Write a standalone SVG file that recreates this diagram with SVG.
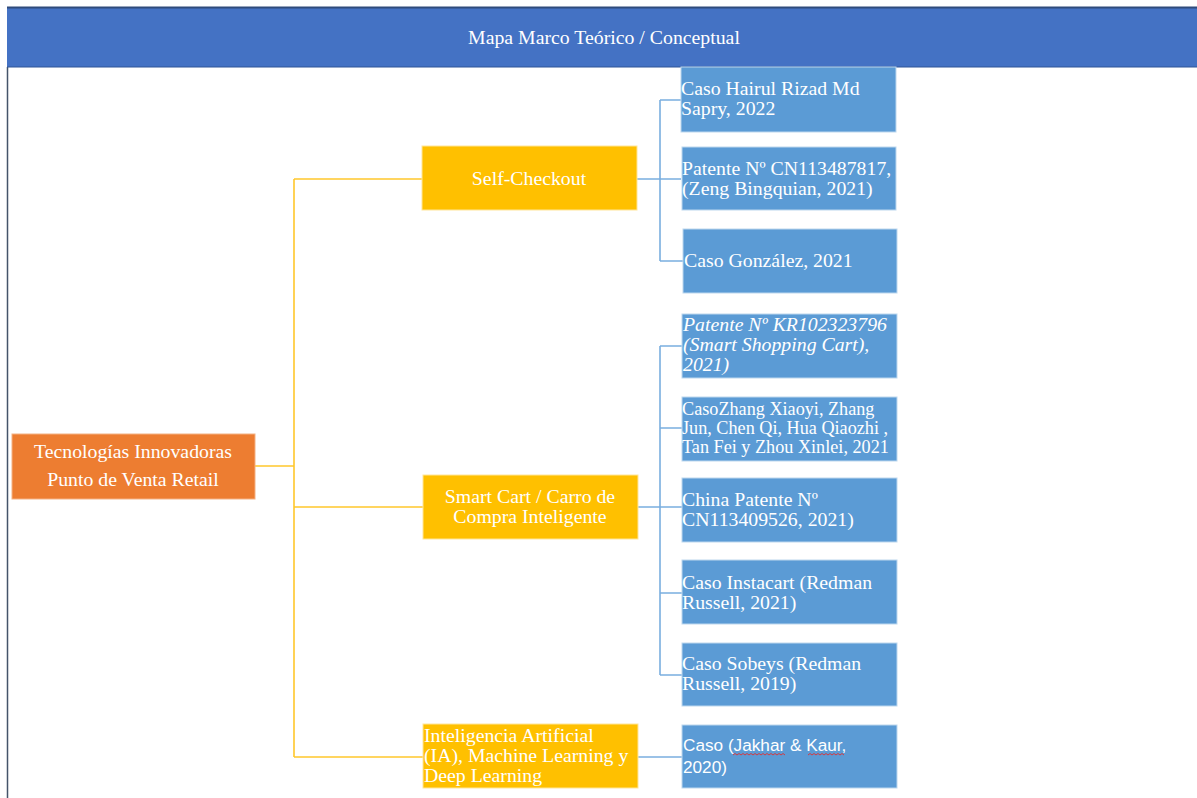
<svg xmlns="http://www.w3.org/2000/svg" width="1197" height="798" viewBox="0 0 1197 798">
  <style>
    .t { font-family: "Liberation Serif", "Times New Roman", serif; font-size: 19.8px; fill: #ffffff; }
    .sm { font-size: 18.2px; }
    .c { text-anchor: middle; }
    .it { font-style: italic; }
    .sans { font-family: "Liberation Sans", Arial, sans-serif; font-size: 17.2px; fill: #ffffff; }
    .root { fill: #ED7D31; stroke: #F4B183; stroke-width: 1; }
    .mid { fill: #FFC000; stroke: #FFE699; stroke-width: 1; }
    .leaf { fill: #5B9BD5; stroke: #BDD7EE; stroke-width: 1; }
    .ly { fill: none; stroke: #FFC72C; stroke-width: 1.6; }
    .lb { fill: none; stroke: #7AAEDF; stroke-width: 1.6; }
  </style>
  <rect width="1197" height="798" fill="#ffffff"/>

  <!-- frame and title bar -->
  <g id="frame">
    <line x1="7.5" y1="67" x2="7.5" y2="798" stroke="#44546A" stroke-width="1.5"/>
    <rect x="7" y="8" width="1190" height="59" fill="#4472C4"/>
    <line x1="7" y1="7.5" x2="1197" y2="7.5" stroke="#2F4B7C" stroke-width="2"/>
    <line x1="7" y1="67" x2="1197" y2="67" stroke="#2F5597" stroke-width="1"/>
    <text class="t c" x="604" y="44">Mapa Marco Teórico / Conceptual</text>
  </g>

  <!-- connectors -->
  <g id="connectors">
    <path class="ly" d="M255 466 H294 M294 179 V757 M294 179 H422 M294 507 H423 M294 757 H423"/>
    <path class="lb" d="M637 179 H681 M660 100 V261 M660 100 H681 M660 261 H683"/>
    <path class="lb" d="M638 507 H682 M660 346 V675 M660 346 H682 M660 428 H682 M660 593 H682 M660 675 H682"/>
    <path class="lb" d="M638 757 H682"/>
  </g>

  <g id="root">
    <rect class="root" x="12" y="434" width="243" height="65"/>
    <text class="t c" x="133" y="458">Tecnologías Innovadoras</text>
    <text class="t c" x="133" y="486">Punto de Venta Retail</text>
  </g>

  <g id="self-checkout">
    <rect class="mid" x="422" y="146" width="215" height="64"/>
    <text class="t c" x="529" y="185">Self-Checkout</text>
  </g>

  <g id="smart-cart">
    <rect class="mid" x="423" y="475" width="215" height="64"/>
    <text class="t c" x="530" y="503">Smart Cart / Carro de</text>
    <text class="t c" x="530" y="523">Compra Inteligente</text>
  </g>

  <g id="ia">
    <rect class="mid" x="423" y="724" width="215" height="64"/>
    <text class="t" x="424" y="742">Inteligencia Artificial</text>
    <text class="t" x="424" y="762">(IA), Machine Learning y</text>
    <text class="t" x="424" y="782">Deep Learning</text>
  </g>

  <g id="caso-hairul">
    <rect class="leaf" x="681" y="67" width="215" height="65"/>
    <text class="t" x="681" y="95">Caso Hairul Rizad Md</text>
    <text class="t" x="681" y="115">Sapry, 2022</text>
  </g>

  <g id="patente-cn113487817">
    <rect class="leaf" x="682" y="147" width="214" height="63"/>
    <text class="t" x="682" y="175">Patente Nº CN113487817,</text>
    <text class="t" x="682" y="195">(Zeng Bingquian, 2021)</text>
  </g>

  <g id="caso-gonzalez">
    <rect class="leaf" x="683" y="229" width="214" height="64"/>
    <text class="t" x="684" y="267">Caso González, 2021</text>
  </g>

  <g id="patente-kr102323796">
    <rect class="leaf" x="682" y="314" width="215" height="64"/>
    <text class="t it" x="683" y="331">Patente Nº KR102323796</text>
    <text class="t it" x="683" y="351">(Smart Shopping Cart),</text>
    <text class="t it" x="683" y="371">2021)</text>
  </g>

  <g id="caso-zhang">
    <rect class="leaf" x="682" y="397" width="215" height="64"/>
    <text class="t sm" x="682" y="415">CasoZhang Xiaoyi, Zhang</text>
    <text class="t sm" x="682" y="434">Jun, Chen Qi, Hua Qiaozhi ,</text>
    <text class="t sm" x="682" y="453">Tan Fei y Zhou Xinlei, 2021</text>
  </g>

  <g id="china-patente">
    <rect class="leaf" x="682" y="478" width="215" height="64"/>
    <text class="t" x="682" y="506">China Patente Nº</text>
    <text class="t" x="682" y="526">CN113409526, 2021)</text>
  </g>

  <g id="caso-instacart">
    <rect class="leaf" x="682" y="560" width="215" height="64"/>
    <text class="t" x="682" y="589">Caso Instacart (Redman</text>
    <text class="t" x="682" y="609">Russell, 2021)</text>
  </g>

  <g id="caso-sobeys">
    <rect class="leaf" x="682" y="643" width="215" height="63"/>
    <text class="t" x="682" y="670">Caso Sobeys (Redman</text>
    <text class="t" x="682" y="690">Russell, 2019)</text>
  </g>

  <g id="caso-jakhar">
    <rect class="leaf" x="682" y="725" width="215" height="63"/>
    <text class="sans" x="683" y="751">Caso (Jakhar &amp; Kaur,</text>
    <text class="sans" x="683" y="773">2020)</text>
    <path d="M733 755 l2 -1.5 l2 1.5 l2 -1.5 l2 1.5 l2 -1.5 l2 1.5 l2 -1.5 l2 1.5 l2 -1.5 l2 1.5 l2 -1.5 l2 1.5 l2 -1.5 l2 1.5 l2 -1.5 l2 1.5 l2 -1.5 l2 1.5 l2 -1.5 l2 1.5 l2 -1.5 l2 1.5 l2 -1.5 l2 1.5 l2 -1.5 l2 1.5 M808 755 l2 -1.5 l2 1.5 l2 -1.5 l2 1.5 l2 -1.5 l2 1.5 l2 -1.5 l2 1.5 l2 -1.5 l2 1.5 l2 -1.5 l2 1.5 l2 -1.5 l2 1.5 l2 -1.5 l2 1.5 l2 -1.5 l2 1.5" fill="none" stroke="#E03030" stroke-width="0.9"/>
  </g>
</svg>
